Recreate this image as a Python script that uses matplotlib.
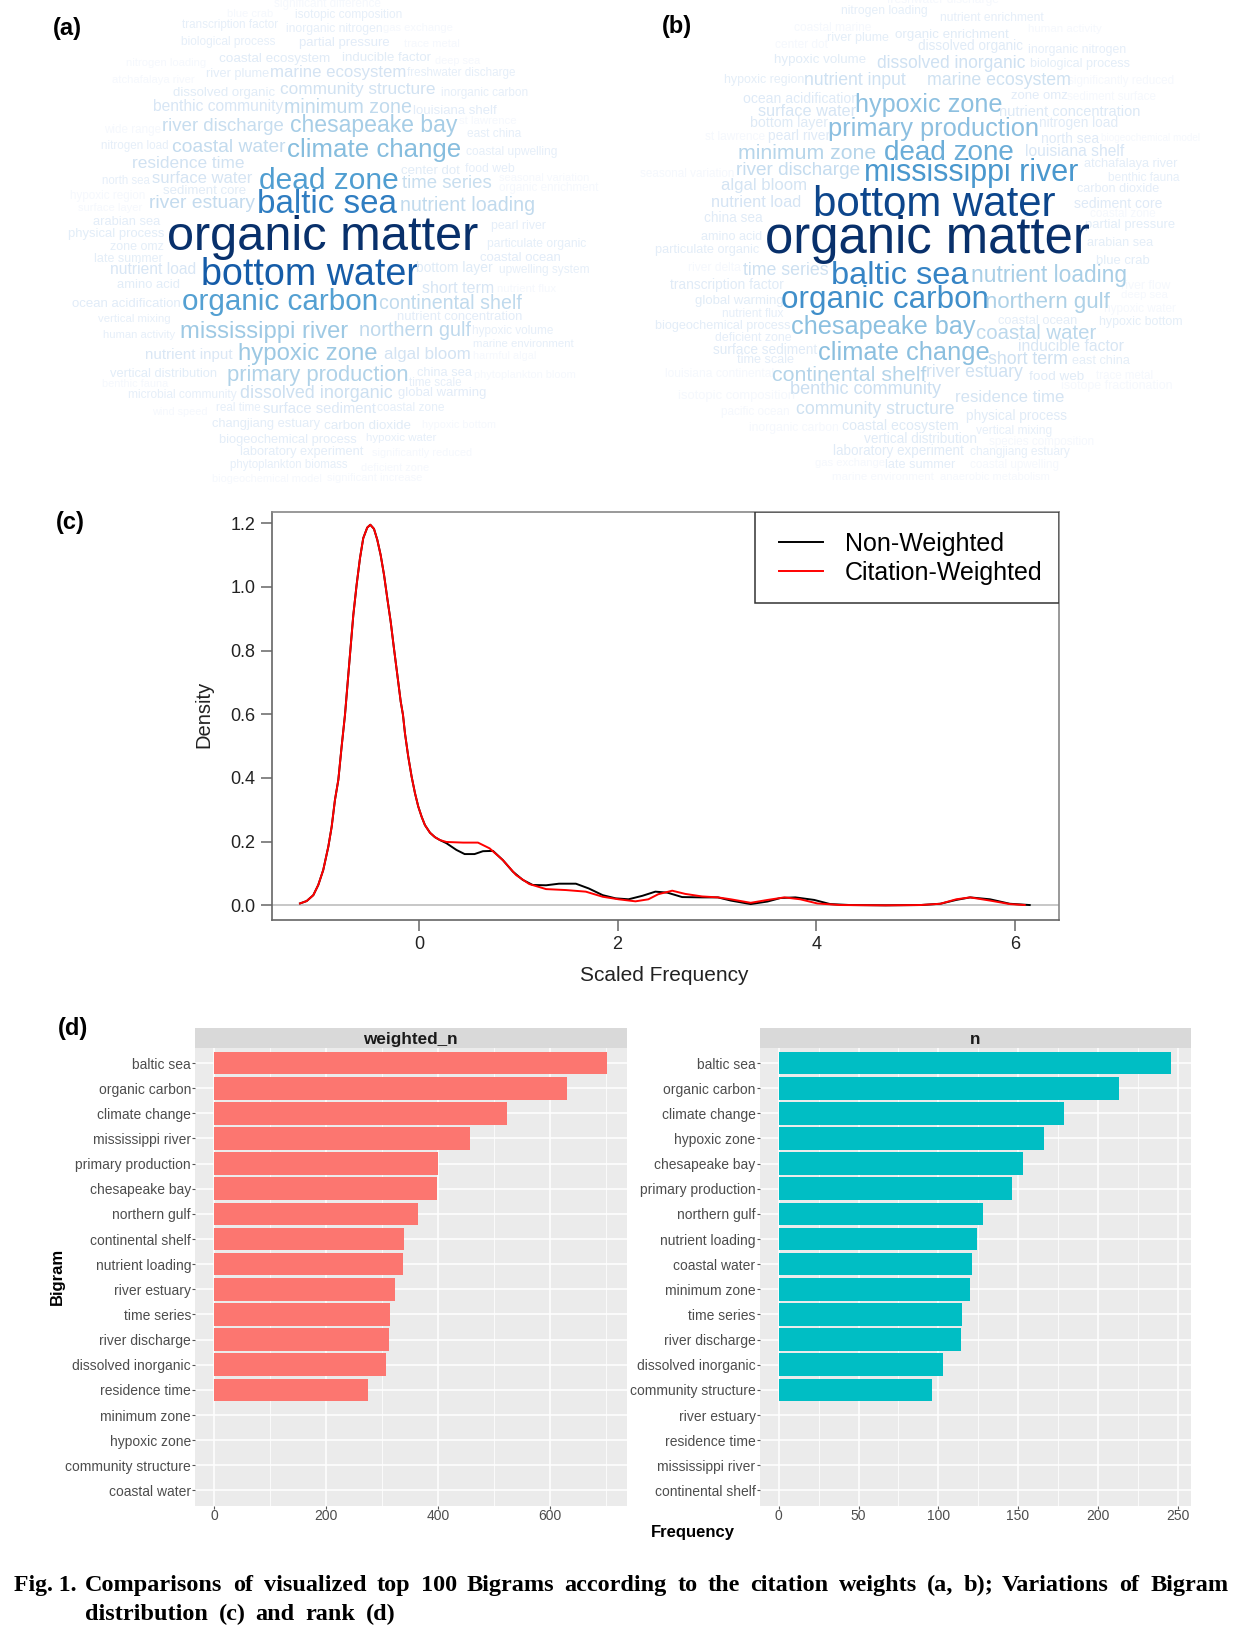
#!/usr/bin/env python3
"""Fig. 1: bigram word clouds (a, b), scaled frequency density (c), top bigrams (d)."""

import numpy as np
import matplotlib
matplotlib.use('Agg')
import matplotlib.pyplot as plt
from matplotlib.font_manager import FontProperties
from matplotlib.patches import Rectangle
from matplotlib.textpath import TextPath

W, H = 1238, 1635
SANS = 'Liberation Sans'
SERIF = 'Liberation Serif'

# panel (c): density curves, the two share the main peak
PEAK_X = [-1.198, -1.131, -1.064, -1.014, -0.964, -0.913, -0.879, -0.846, -0.812, -0.779, -0.745, -0.695, -0.661,
          -0.628, -0.594, -0.561, -0.521, -0.490, -0.453, -0.42, -0.386, -0.352, -0.319, -0.285, -0.252, -0.218,
          -0.184, -0.161, -0.141, -0.108, -0.074, -0.04, -0.007, 0.027, 0.06, 0.111, 0.161, 0.211]
PEAK_Y = [0.006, 0.0135, 0.032, 0.064, 0.111, 0.184, 0.247, 0.331, 0.394, 0.498, 0.598, 0.786, 0.912,
          1.006, 1.09, 1.153, 1.186, 1.195, 1.182, 1.148, 1.10, 1.038, 0.964, 0.891, 0.807, 0.724,
          0.640, 0.598, 0.540, 0.467, 0.404, 0.352, 0.310, 0.278, 0.252, 0.228, 0.214, 0.205]
NW_TAIL_X = [0.277, 0.377, 0.46, 0.56, 0.644, 0.745, 0.845, 0.945, 1.045, 1.145, 1.28, 1.41, 1.58, 1.71, 1.85,
             1.98, 2.11, 2.25, 2.38, 2.5, 2.65, 2.85, 3.01, 3.14, 3.34, 3.51, 3.64, 3.79, 3.98, 4.14, 4.34, 4.7,
             5.05, 5.25, 5.41, 5.55, 5.75, 5.95, 6.15]
NW_TAIL_Y = [0.195, 0.174, 0.161, 0.161, 0.17, 0.171, 0.142, 0.106, 0.08, 0.064, 0.063, 0.068, 0.068, 0.053, 0.032,
             0.022, 0.019, 0.03, 0.043, 0.04, 0.026, 0.025, 0.025, 0.015, 0.004, 0.012, 0.023, 0.025, 0.017, 0.004,
             0.001, 0.0, 0.001, 0.005, 0.017, 0.025, 0.019, 0.005, 0.001]
CW_TAIL_X = [0.277, 0.444, 0.594, 0.711, 0.845, 0.978, 1.11, 1.28, 1.48, 1.68, 1.85, 2.01, 2.18, 2.31, 2.41, 2.55,
             2.68, 2.85, 3.01, 3.14, 3.34, 3.51, 3.68, 3.84, 4.01, 4.24, 4.7, 5.05, 5.25, 5.41, 5.55, 5.75, 5.95, 6.1]
CW_TAIL_Y = [0.199, 0.197, 0.197, 0.179, 0.142, 0.095, 0.067, 0.051, 0.048, 0.043, 0.027, 0.019, 0.0126, 0.019, 0.035,
             0.046, 0.036, 0.028, 0.025, 0.019, 0.008, 0.017, 0.025, 0.019, 0.006, 0.001, 0.0, 0.001, 0.005, 0.019,
             0.025, 0.015, 0.004, 0.001]

# panel (d): top bigrams
WEIGHTED_LABELS = ['baltic sea', 'organic carbon', 'climate change', 'mississippi river', 'primary production',
                   'chesapeake bay', 'northern gulf', 'continental shelf', 'nutrient loading', 'river estuary',
                   'time series', 'river discharge', 'dissolved inorganic', 'residence time', 'minimum zone',
                   'hypoxic zone', 'community structure', 'coastal water']
WEIGHTED_N = [702, 631, 524, 457, 400, 399, 365, 340, 337, 323, 315, 312, 307, 276]
COUNT_LABELS = ['baltic sea', 'organic carbon', 'climate change', 'hypoxic zone', 'chesapeake bay',
                'primary production', 'northern gulf', 'nutrient loading', 'coastal water', 'minimum zone',
                'time series', 'river discharge', 'dissolved inorganic', 'community structure', 'river estuary',
                'residence time', 'mississippi river', 'continental shelf']
COUNT_N = [246, 213, 179, 166, 153, 146, 128, 124, 121, 120, 115, 114, 103, 96]

# word clouds: the layout is the reference's own, (word, left, right, mid height) on a
# 1568 x 1500 canvas. Faint words are the lowest ranked ones.
CLOUD_A = [
    ('isotopic composition', 745, 1013, 42), ('transcription factor', 460, 700, 72),
    ('inorganic nitrogen', 723, 962, 82), ('biological process', 458, 695, 122),
    ('partial pressure', 755, 980, 124), ('coastal ecosystem', 553, 830, 171),
    ('inducible factor', 864, 1087, 170), ('river plume', 520, 676, 218),
    ('marine ecosystem', 682, 1021, 214), ('freshwater discharge', 1030, 1300, 217),
    ('dissolved organic', 437, 694, 273), ('community structure', 709, 1099, 265),
    ('inorganic carbon', 1115, 1330, 275), ('benthic community', 386, 714, 318),
    ('minimum zone', 718, 1036, 320), ('louisiana shelf', 1045, 1254, 328),
    ('river discharge', 409, 713, 374), ('chesapeake bay', 734, 1154, 372),
    ('east china', 1180, 1316, 399), ('nitrogen load', 255, 422, 435),
    ('coastal water', 436, 720, 437), ('climate change', 726, 1161, 445),
    ('coastal upwelling', 1178, 1407, 451), ('residence time', 334, 613, 487),
    ('center dot', 1013, 1161, 508), ('food web', 1176, 1300, 503),
    ('north sea', 258, 378, 541), ('surface water', 385, 635, 531),
    ('dead zone', 654, 1001, 538), ('time series', 1016, 1241, 545),
    ('sediment core', 411, 620, 568), ('river estuary', 376, 640, 606),
    ('baltic sea', 650, 999, 608), ('nutrient loading', 1011, 1344, 612),
    ('arabian sea', 236, 405, 660), ('pearl river', 1241, 1376, 675),
    ('physical process', 171, 411, 697), ('organic matter', 423, 1204, 705),
    ('zone omz', 278, 412, 738), ('particulate organic', 1231, 1480, 727),
    ('late summer', 238, 410, 772), ('coastal ocean', 1213, 1415, 768),
    ('nutrient load', 278, 490, 807), ('bottom water', 508, 1050, 820),
    ('bottom layer', 1052, 1242, 802), ('upwelling system', 1262, 1486, 807),
    ('amino acid', 297, 452, 849), ('short term', 1067, 1245, 862),
    ('ocean acidification', 181, 452, 907), ('organic carbon', 460, 948, 902),
    ('continental shelf', 959, 1316, 908), ('vertical mixing', 248, 428, 953),
    ('nutrient concentration', 1003, 1316, 947), ('human activity', 260, 440, 1002),
    ('mississippi river', 455, 873, 990), ('northern gulf', 908, 1187, 988),
    ('hypoxic volume', 1194, 1396, 989), ('marine environment', 1195, 1448, 1030),
    ('nutrient input', 366, 585, 1060), ('hypoxic zone', 601, 947, 1056),
    ('algal bloom', 971, 1185, 1060), ('vertical distribution', 278, 547, 1117),
    ('primary production', 573, 1026, 1122), ('china sea', 1054, 1192, 1114),
    ('time scale', 1035, 1166, 1146), ('microbial community', 324, 596, 1180),
    ('dissolved inorganic', 608, 990, 1175), ('global warming', 1007, 1226, 1175),
    ('real time', 546, 656, 1219), ('surface sediment', 664, 946, 1225),
    ('coastal zone', 953, 1121, 1220), ('changjiang estuary', 536, 807, 1267),
    ('carbon dioxide', 820, 1037, 1273), ('biogeochemical process', 553, 900, 1315),
    ('hypoxic water', 925, 1100, 1311), ('laboratory experiment', 607, 918, 1352),
    ('phytoplankton biomass', 582, 878, 1391),
]
CLOUD_A_FAINT = [
    ('significant difference', 692, 960, 8), ('blue crab', 575, 688, 40),
    ('gas exchange', 968, 1140, 82), ('trace metal', 1022, 1160, 128),
    ('deep sea', 1100, 1213, 180), ('nitrogen loading', 318, 516, 185),
    ('atchafalaya river', 283, 490, 236), ('st lawrence', 1160, 1303, 361),
    ('wide range', 262, 405, 387), ('seasonal variation', 1263, 1487, 532),
    ('organic enrichment', 1262, 1510, 562), ('hypoxic region', 178, 364, 584),
    ('surface layer', 196, 355, 620), ('nutrient flux', 1258, 1405, 863),
    ('harmful algal', 1197, 1352, 1066), ('phytoplankton bloom', 1198, 1452, 1121),
    ('benthic fauna', 258, 422, 1148), ('wind speed', 385, 522, 1234),
    ('hypoxic bottom', 1067, 1248, 1272), ('significantly reduced', 940, 1190, 1357),
    ('deficient zone', 914, 1083, 1402), ('biogeochemical model', 537, 810, 1435),
    ('significant increase', 828, 1065, 1431),
]
CLOUD_B = [
    ('nitrogen loading', 560, 776, 30), ('nutrient enrichment', 812, 1072, 49),
    ('river plume', 524, 678, 111), ('organic enrichment', 697, 985, 99),
    ('dissolved organic', 755, 1018, 136), ('inorganic nitrogen', 1034, 1277, 146),
    ('hypoxic volume', 390, 620, 176), ('dissolved inorganic', 652, 1027, 186),
    ('biological process', 1040, 1290, 188), ('hypoxic region', 263, 462, 235),
    ('nutrient input', 466, 722, 238), ('marine ecosystem', 778, 1137, 237),
    ('zone omz', 992, 1134, 284), ('ocean acidification', 311, 600, 295),
    ('hypoxic zone', 595, 962, 312), ('surface water', 350, 596, 332),
    ('nutrient concentration', 961, 1314, 334), ('bottom layer', 330, 524, 367),
    ('primary production', 529, 1054, 382), ('nitrogen load', 1062, 1257, 366),
    ('pearl river', 376, 530, 405), ('north sea', 1069, 1214, 415),
    ('minimum zone', 300, 644, 455), ('dead zone', 670, 995, 452),
    ('louisiana shelf', 1027, 1276, 452), ('river discharge', 295, 605, 506),
    ('mississippi river', 620, 1160, 515), ('atchafalaya river', 1177, 1412, 487),
    ('benthic fauna', 1238, 1418, 531), ('algal bloom', 255, 467, 554),
    ('carbon dioxide', 1160, 1366, 562), ('bottom water', 490, 1098, 607),
    ('nutrient load', 232, 456, 604), ('sediment core', 1151, 1371, 609),
    ('china sea', 212, 359, 652), ('partial pressure', 1180, 1404, 669),
    ('amino acid', 205, 357, 706), ('organic matter', 368, 1185, 711),
    ('arabian sea', 1186, 1352, 724), ('particulate organic', 90, 352, 744),
    ('time series', 312, 528, 807), ('baltic sea', 535, 878, 822),
    ('nutrient loading', 890, 1277, 825), ('blue crab', 1208, 1340, 777),
    ('transcription factor', 126, 411, 852), ('global warming', 190, 413, 899),
    ('organic carbon', 409, 928, 895), ('northern gulf', 927, 1240, 903),
    ('nutrient flux', 258, 412, 938), ('biogeochemical process', 90, 432, 974),
    ('chesapeake bay', 433, 898, 978), ('coastal ocean', 960, 1158, 958),
    ('hypoxic bottom', 1216, 1424, 963), ('coastal water', 903, 1204, 996),
    ('deficient zone', 241, 432, 1011), ('surface sediment', 236, 497, 1047),
    ('inducible factor', 1009, 1275, 1037), ('climate change', 502, 930, 1056),
    ('time scale', 297, 440, 1077), ('short term', 933, 1132, 1074),
    ('east china', 1146, 1290, 1079), ('continental shelf', 385, 775, 1122),
    ('river estuary', 777, 1020, 1114), ('food web', 1037, 1174, 1125),
    ('benthic community', 432, 812, 1163), ('residence time', 850, 1122, 1189),
    ('community structure', 447, 847, 1225), ('physical process', 877, 1130, 1247),
    ('coastal ecosystem', 563, 855, 1274), ('vertical mixing', 903, 1094, 1288),
    ('vertical distribution', 618, 902, 1316), ('laboratory experiment', 540, 870, 1351),
    ('changjiang estuary', 887, 1139, 1353), ('late summer', 672, 848, 1389),
]
CLOUD_B_FAINT = [
    ('freshwater discharge', 678, 960, -3), ('coastal marine', 442, 635, 80),
    ('human activity', 1034, 1218, 84), ('center dot', 393, 525, 130),
    ('significantly reduced', 1137, 1403, 238), ('sediment surface', 1134, 1356, 287),
    ('st lawrence', 215, 365, 406), ('biogeochemical model', 1220, 1470, 412),
    ('seasonal variation', 50, 285, 519), ('coastal zone', 1192, 1355, 640),
    ('river delta', 173, 305, 800), ('river flow', 1270, 1393, 853),
    ('deep sea', 1270, 1388, 882), ('hypoxic water', 1228, 1408, 922),
    ('louisiana continental', 113, 385, 1118), ('trace metal', 1208, 1350, 1124),
    ('isotope fractionation', 1118, 1394, 1153), ('isotopic composition', 148, 440, 1184),
    ('pacific ocean', 257, 427, 1233), ('inorganic carbon', 328, 552, 1281),
    ('species composition', 936, 1198, 1322), ('gas exchange', 494, 670, 1386),
    ('coastal upwelling', 888, 1110, 1391), ('marine environment', 537, 792, 1428),
    ('anaerobic metabolism', 812, 1090, 1428),
]

CAPTION_1 = 'Comparisons of visualized top 100 Bigrams according to the citation weights (a, b); Variations of Bigram'
CAPTION_2 = 'distribution (c) and rank (d)'

TONE_SIZES = [12, 17, 22, 26, 30, 35, 40, 47]
TONE_COLORS = ['#E6EFF9', '#D3E3F3', '#B0D2E8', '#85BCDE', '#4F9DD1', '#1C6BB8', '#0F4F9A', '#08306B']
FAINT_COLOR = '#F5F8FD'


def px_axes(fig, left, top, right, bottom):
    return fig.add_axes([left / W, 1 - bottom / H, (right - left) / W, (bottom - top) / H])


def px_text(fig, x, y, s, **kw):
    return fig.text(x / W, 1 - y / H, s, **kw)


def tone(size_px):
    rgb = np.array([matplotlib.colors.to_rgb(c) for c in TONE_COLORS])
    return tuple(np.interp(size_px, TONE_SIZES, rgb[:, i]) for i in range(3))


def draw_cloud(fig, left, right, words, faint):
    ax = px_axes(fig, left, 0, right, 500)
    ax.set_xlim(0, 1568)
    ax.set_ylim(1500, 0)
    ax.axis('off')
    xscale = 1568 / (right - left)
    prop = FontProperties(family=SANS)
    for group, is_faint in ((faint, True), (words, False)):
        for word, x0, x1, y in group:
            em = TextPath((0, 0), word, size=100, prop=prop).get_extents().width / 100
            size_px = (x1 - x0) / xscale / em
            color = FAINT_COLOR if is_faint else tone(size_px)
            ax.text(x0, y + 2 + 0.30 * size_px * 3, word, fontsize=size_px * 0.72, family=SANS,
                    color=color, ha='left', va='baseline')


def draw_density(fig):
    ax = px_axes(fig, 271.5, 512, 1059, 920)
    ax.set_xlim(-1.485, 6.445)
    ax.set_ylim(-0.046, 1.235)
    ax.axhline(0, color='#BEBEBE', lw=1.2, zorder=1)
    ax.plot(PEAK_X + NW_TAIL_X, PEAK_Y + NW_TAIL_Y, color='black', lw=1.4, label='Non-Weighted', zorder=2)
    ax.plot(PEAK_X + CW_TAIL_X, PEAK_Y + CW_TAIL_Y, color='red', lw=1.4, label='Citation-Weighted', zorder=3)
    for side in ax.spines.values():
        side.set_color('#666666')
        side.set_linewidth(1.2)
    ax.spines['top'].set_color('#888888')
    ax.spines['right'].set_color('#888888')
    ax.set_xticks([0, 2, 4, 6])
    ax.set_yticks([0, 0.2, 0.4, 0.6, 0.8, 1.0, 1.2])
    ax.set_yticklabels(['0.0', '0.2', '0.4', '0.6', '0.8', '1.0', '1.2'])
    ax.tick_params(length=8, width=1.1, color='#666666', labelsize=13, pad=3.5)
    for t in ax.get_xticklabels() + ax.get_yticklabels():
        t.set_family(SANS)
        t.set_color('#222222')
    # the legend box has less padding on the right than on the left, so it is drawn apart
    ax.add_patch(Rectangle((0.614, 0.777), 0.386, 0.223, transform=ax.transAxes, facecolor='white',
                           edgecolor='#333333', linewidth=1.1, zorder=4))
    leg = ax.legend(loc='upper left', bbox_to_anchor=(0.6444, 0.951), borderaxespad=0, borderpad=0, frameon=False,
                    prop=FontProperties(family=SANS, size=18), handlelength=1.75, handletextpad=0.88,
                    labelspacing=0.2)
    leg.set_zorder(5)
    px_text(fig, 204, 714, 'Density', family=SANS, fontsize=14.5, rotation=90, ha='center', va='center', color='#222222')
    px_text(fig, 664, 975, 'Scaled Frequency', family=SANS, fontsize=15, ha='center', va='center', color='#222222')


def draw_bars(fig, left, right, labels, values, xlim, major, minor, color, title):
    ax = px_axes(fig, left, 1048, right, 1505.5)
    y = np.arange(len(labels), 0, -1)
    ax.set_facecolor('#EBEBEB')
    ax.barh(y[:len(values)], values, height=0.9, color=color, zorder=3)
    ax.set_xlim(*xlim)
    ax.set_ylim(0.4, len(labels) + 0.6)
    ax.set_yticks(y)
    ax.set_yticklabels(labels)
    ax.set_xticks(major)
    ax.set_xticks(minor, minor=True)
    ax.grid(True, which='major', color='white', lw=1.1, zorder=1)
    ax.grid(True, which='minor', axis='x', color='white', lw=0.55, zorder=1)
    ax.tick_params(which='minor', length=0)
    ax.tick_params(which='major', length=2.2, width=0.8, color='#555555', labelcolor='#4D4D4D', labelsize=10, pad=0.6)
    for t in ax.get_xticklabels() + ax.get_yticklabels():
        t.set_family(SANS)
    for side in ax.spines.values():
        side.set_visible(False)
    strip = px_axes(fig, left, 1028, right, 1048)
    strip.set_facecolor('#D9D9D9')
    strip.set_xticks([])
    strip.set_yticks([])
    for side in strip.spines.values():
        side.set_visible(False)
    strip.text(0.5, 0.42, title, transform=strip.transAxes, family=SANS, fontsize=12.3, fontweight='bold',
               color='#1A1A1A', ha='center', va='center')


def justify(fig, text, x0, x1, y):
    # spread the words so the line fills x0..x1, as the journal page does
    size = 17.5
    prop = FontProperties(family=SERIF, weight='bold', size=size)
    words = text.split()
    widths = [TextPath((0, 0), w, size=size * 100 / 72, prop=prop).get_extents().x1 for w in words]
    gap = (x1 - x0 - sum(widths)) / (len(words) - 1)
    x = x0
    for word, width in zip(words, widths):
        px_text(fig, x, y, word, family=SERIF, fontweight='bold', fontsize=size, ha='left', va='baseline', color='black')
        x += width + gap


def main():
    fig = plt.figure(figsize=(W / 100, H / 100), dpi=100, facecolor='white')

    draw_cloud(fig, 0, 620, CLOUD_A, CLOUD_A_FAINT)
    draw_cloud(fig, 620, 1238, CLOUD_B, CLOUD_B_FAINT)
    draw_density(fig)
    draw_bars(fig, 195, 626.5, WEIGHTED_LABELS, WEIGHTED_N, (-34, 737), [0, 200, 400, 600],
              [100, 300, 500, 700], '#FC7670', 'weighted_n')
    draw_bars(fig, 759.5, 1190.8, COUNT_LABELS, COUNT_N, (-12.1, 258.3), [0, 50, 100, 150, 200, 250],
              [25, 75, 125, 175, 225], '#00BEC4', 'n')

    for label, x, y in (('(a)', 53, 28), ('(b)', 662, 27), ('(c)', 56, 522), ('(d)', 58, 1028)):
        px_text(fig, x, y, label, family=SANS, fontweight='bold', fontsize=17, ha='left', va='center', color='black')
    px_text(fig, 57, 1276, 'Bigram', family=SANS, fontweight='bold', fontsize=12, rotation=90,
            ha='center', va='center', color='black')
    px_text(fig, 692.5, 1532, 'Frequency', family=SANS, fontweight='bold', fontsize=12,
            ha='center', va='center', color='black')

    px_text(fig, 14, 1591, 'Fig. 1.', family=SERIF, fontweight='bold', fontsize=17, ha='left', va='baseline')
    justify(fig, CAPTION_1, 85, 1228, 1591)
    justify(fig, CAPTION_2, 85, 395, 1620)

    fig.savefig('out.png', dpi=100, facecolor='white')


if __name__ == '__main__':
    main()
